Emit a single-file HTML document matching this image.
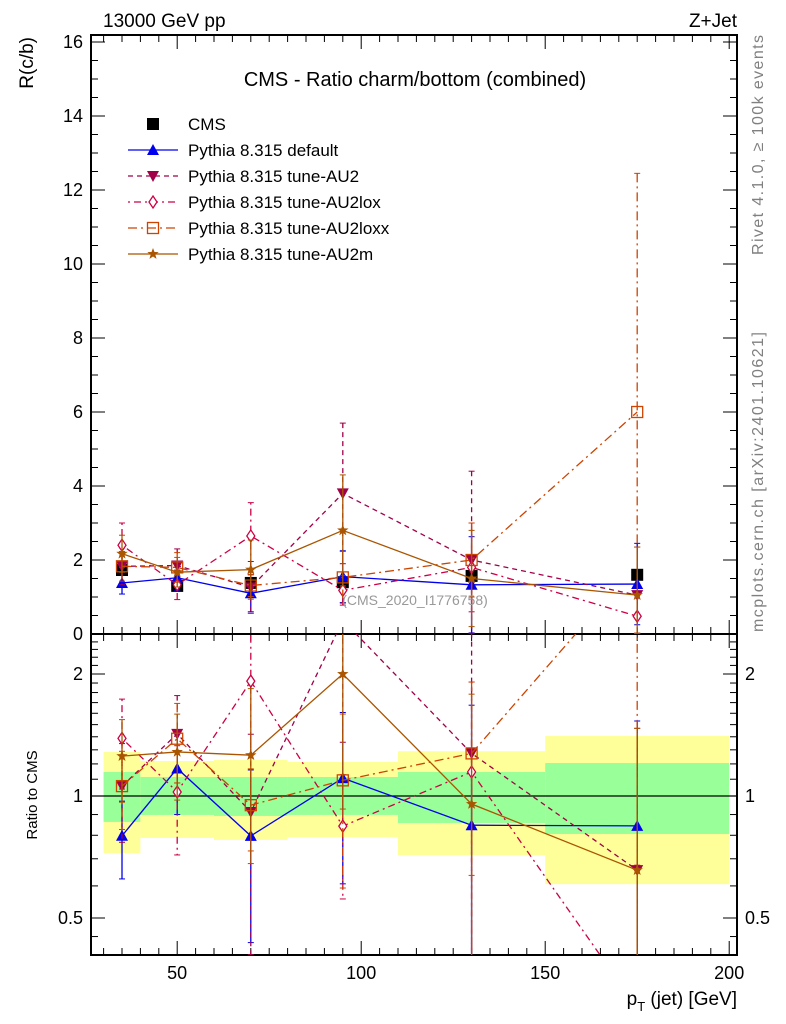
<!DOCTYPE html>
<html><head><meta charset="utf-8"><style>
html,body{margin:0;background:#fff;overflow:hidden;width:786px;height:1024px}
svg{display:block;font-family:"Liberation Sans",sans-serif}
</style></head><body>
<svg id="c" width="786" height="1024" viewBox="0 0 786 1024" xmlns="http://www.w3.org/2000/svg">
<g id="bands"></g>
<g id="grid"></g>
<g id="series"></g>
<text x="103" y="27" font-size="19">13000 GeV pp</text>
<text x="737" y="27" font-size="19" text-anchor="end">Z+Jet</text>
<text x="415" y="86" font-size="20" text-anchor="middle">CMS - Ratio charm/bottom (combined)</text>
<text x="415" y="605" font-size="14" fill="#999" text-anchor="middle">(CMS_2020_I1776758)</text>
<text transform="translate(33,37) rotate(-90)" font-size="19" text-anchor="end">R(c/b)</text>
<text transform="translate(37,795) rotate(-90)" font-size="15" text-anchor="middle">Ratio to CMS</text>
<text x="737" y="1005" font-size="19" text-anchor="end">p<tspan font-size="13" dy="6">T</tspan><tspan dy="-6"> (jet) [GeV]</tspan></text>
<text transform="translate(763,35) rotate(-90)" font-size="16" fill="#808080" text-anchor="end" textLength="220">Rivet 4.1.0, ≥ 100k events</text>
<text transform="translate(763,632) rotate(-90)" font-size="16" fill="#808080" text-anchor="start" textLength="300">mcplots.cern.ch [arXiv:2401.10621]</text>
<g id="legend"></g>
</svg>
<script>
const xCenters=[35,50,70,95,130,175];
const binEdges=[30,40,60,80,110,150,200];
const cmsVal=[1.73,1.3,1.38,1.4,1.57,1.6];
const yellowHi=[1.284,1.22,1.227,1.213,1.29,1.406];
const yellowLo=[0.723,0.788,0.779,0.792,0.715,0.606];
const greenHi=[1.146,1.114,1.114,1.114,1.146,1.206];
const greenLo=[0.863,0.898,0.893,0.898,0.858,0.806];
const defVal=[1.38,1.52,1.1,1.55,1.33,1.35];
const defErr=[0.3,0.35,0.5,0.7,1.3,1.1];
const au2Val=[1.83,1.85,1.26,3.8,2.0,1.05];
const au2Err=[0.5,0.45,0.7,1.9,2.4,1.3];
const loxVal=[2.4,1.33,2.65,1.18,1.8,0.48];
const loxErr=[0.6,0.4,0.9,0.4,1.2,0.6];
const loxxVal=[1.83,1.8,1.31,1.53,2.0,6.0];
const loxxErr=[0.4,0.4,0.3,0.7,1.0,6.45];
const au2mVal=[2.17,1.67,1.74,2.8,1.5,1.05];
const au2mErr=[0.5,0.4,0.8,1.5,1.3,1.3];
const mainTicks=[0,2,4,6,8,10,12,14,16];
const ratioTicks=[0.5,1,2];
const xTicks=[50,100,150,200];

const NS="http://www.w3.org/2000/svg";
const L=91,R=737,T=35,M=634,B=955;
const X=v=>122+(v-35)*3.68;
const Y=v=>M-37*v;
const YR=r=>796-122*Math.log2(r);
function mk(p,tag,at){const e=document.createElementNS(NS,tag);for(const k in at)e.setAttribute(k,at[k]);p.appendChild(e);return e;}
const bands=document.getElementById('bands'),grid=document.getElementById('grid'),ser=document.getElementById('series'),leg=document.getElementById('legend');

for(let i=0;i<6;i++){
  let x0=X(binEdges[i]),x1=X(binEdges[i+1]);
  let e=mk(bands,'rect',{x:x0,y:YR(yellowHi[i]),width:x1-x0,height:YR(yellowLo[i])-YR(yellowHi[i]),fill:'#ffff99'});
  
  e=mk(bands,'rect',{x:x0,y:YR(greenHi[i]),width:x1-x0,height:YR(greenLo[i])-YR(greenHi[i]),fill:'#99ff99'});
  
}
mk(grid,'rect',{x:L,y:T,width:R-L,height:M-T,fill:'none',stroke:'#000','stroke-width':2});
mk(grid,'rect',{x:L,y:M,width:R-L,height:B-M,fill:'none',stroke:'#000','stroke-width':2});
mk(grid,'line',{x1:L,x2:R,y1:YR(1),y2:YR(1),stroke:'#000','stroke-width':1.3});
for(let v=0;v<=16.01;v+=0.5){const maj=Math.abs(v/2-Math.round(v/2))<1e-6,len=maj?14:7;
  mk(grid,'line',{x1:L,x2:L+len,y1:Y(v),y2:Y(v),stroke:'#000','stroke-width':1});
  mk(grid,'line',{x1:R,x2:R-len,y1:Y(v),y2:Y(v),stroke:'#000','stroke-width':1});}
mainTicks.forEach(v=>{const t=mk(grid,'text',{x:L-8,y:Y(v)+6,'font-size':18,'text-anchor':'end'});t.textContent=v;
  });
const rminor=[0.45,0.5,0.6,0.7,0.8,0.9,1,1.1,1.2,1.3,1.4,1.5,1.6,1.7,1.8,1.9,2,2.1,2.2,2.3,2.4];
rminor.forEach(r=>{const maj=[0.5,1,2].includes(r),len=maj?14:7;const y=YR(r);if(y<M||y>B)return;
  mk(grid,'line',{x1:L,x2:L+len,y1:y,y2:y,stroke:'#000'});mk(grid,'line',{x1:R,x2:R-len,y1:y,y2:y,stroke:'#000'});});
ratioTicks.forEach(r=>{let t=mk(grid,'text',{x:L-8,y:YR(r)+6,'font-size':18,'text-anchor':'end'});t.textContent=r;
  
  t=mk(grid,'text',{x:R+8,y:YR(r)+6,'font-size':18});t.textContent=r;
  });
for(let v=30;v<=200;v+=5){const maj=v%50==0,len=maj?14:7;
  mk(grid,'line',{x1:X(v),x2:X(v),y1:B,y2:B-len,stroke:'#000'});
  mk(grid,'line',{x1:X(v),x2:X(v),y1:T,y2:T+len,stroke:'#000'});
  mk(grid,'line',{x1:X(v),x2:X(v),y1:M,y2:M+len,stroke:'#000'});
  mk(grid,'line',{x1:X(v),x2:X(v),y1:M,y2:M-len,stroke:'#000'});}
xTicks.forEach(v=>{const t=mk(grid,'text',{x:X(v),y:979,'font-size':18,'text-anchor':'middle'});t.textContent=v;
  });

const defs=mk(document.getElementById('c'),'defs',{});
mk(mk(defs,'clipPath',{id:'cm'}),'rect',{x:L,y:T,width:R-L,height:M-T});
mk(mk(defs,'clipPath',{id:'cr'}),'rect',{x:L,y:M,width:R-L,height:B-M});

function marker(g,type,x,y,col){
  if(type=='sq')return mk(g,'rect',{x:x-6,y:y-6,width:12,height:12,fill:'#000'});
  if(type=='up')return mk(g,'path',{d:`M${x},${y-6}L${x+6},${y+5}L${x-6},${y+5}Z`,fill:col});
  if(type=='dn')return mk(g,'path',{d:`M${x},${y+6}L${x+6},${y-5}L${x-6},${y-5}Z`,fill:col});
  if(type=='dia')return mk(g,'path',{d:`M${x},${y-6}L${x+4},${y}L${x},${y+6}L${x-4},${y}Z`,fill:'#fff',stroke:col,'stroke-width':1.3});
  if(type=='osq')return mk(g,'rect',{x:x-5.5,y:y-5.5,width:11,height:11,fill:'none',stroke:col,'stroke-width':1.3});
  if(type=='star'){let p='';for(let k=0;k<10;k++){const a=-Math.PI/2+k*Math.PI/5,r=k%2?2.5:6;p+=(k?'L':'M')+(x+r*Math.cos(a))+','+(y+r*Math.sin(a));}return mk(g,'path',{d:p+'Z',fill:col});}
}
const seriesList=[
 {name:'default',label:'Pythia 8.315 default',v:defVal,e:defErr,col:'#0000ee',dash:'',m:'up'},
 {name:'au2',label:'Pythia 8.315 tune-AU2',v:au2Val,e:au2Err,col:'#a0004a',dash:'5,4',m:'dn'},
 {name:'au2lox',label:'Pythia 8.315 tune-AU2lox',v:loxVal,e:loxErr,col:'#cc0044',dash:'2,4,7,4',m:'dia'},
 {name:'au2loxx',label:'Pythia 8.315 tune-AU2loxx',v:loxxVal,e:loxxErr,col:'#cc4400',dash:'9,4,2,4',m:'osq'},
 {name:'au2m',label:'Pythia 8.315 tune-AU2m',v:au2mVal,e:au2mErr,col:'#aa5500',dash:'',m:'star'}];
function drawSeries(s,ratio){
  const g=mk(ser,'g',{'clip-path':ratio?'url(#cr)':'url(#cm)'});
  
  
  const fy=(v,i)=>ratio?YR(Math.max(v/cmsVal[i],0.01)):Y(v);
  let d='';s.v.forEach((v,i)=>{d+=(i?'L':'M')+X(xCenters[i])+','+fy(v,i);});
  mk(g,'path',{d,fill:'none',stroke:s.col,'stroke-width':1.3,'stroke-dasharray':s.dash});
  s.v.forEach((v,i)=>{const x=X(xCenters[i]);const y1=fy(v+s.e[i],i),y0=fy(Math.max(v-s.e[i],0.02),i);
    mk(g,'line',{x1:x,x2:x,y1:y1,y2:y0,stroke:s.col,'stroke-width':1.3,'stroke-dasharray':s.dash});
    mk(g,'line',{x1:x-3,x2:x+3,y1:y1,y2:y1,stroke:s.col});mk(g,'line',{x1:x-3,x2:x+3,y1:y0,y2:y0,stroke:s.col});
    const m=marker(g,s.m,x,fy(v,i),s.col);
    
    });
}
cmsVal.forEach((v,i)=>{const m=marker(ser,'sq',X(xCenters[i]),Y(v),'#000');
  
  });
seriesList.forEach(s=>{drawSeries(s,false);drawSeries(s,true);});
const ly=[124,150,176,202,228,254];
marker(leg,'sq',153,ly[0],'#000');
let lt=mk(leg,'text',{x:188,y:ly[0]+6,'font-size':17});lt.textContent='CMS';


seriesList.forEach((s,k)=>{const y=ly[k+1];
  mk(leg,'line',{x1:128,x2:178,y1:y,y2:y,stroke:s.col,'stroke-width':1.3,'stroke-dasharray':s.dash});
  marker(leg,s.m,153,y,s.col);
  const t=mk(leg,'text',{x:188,y:y+6,'font-size':17});t.textContent=s.label;
  
  });
</script>
</body></html>
